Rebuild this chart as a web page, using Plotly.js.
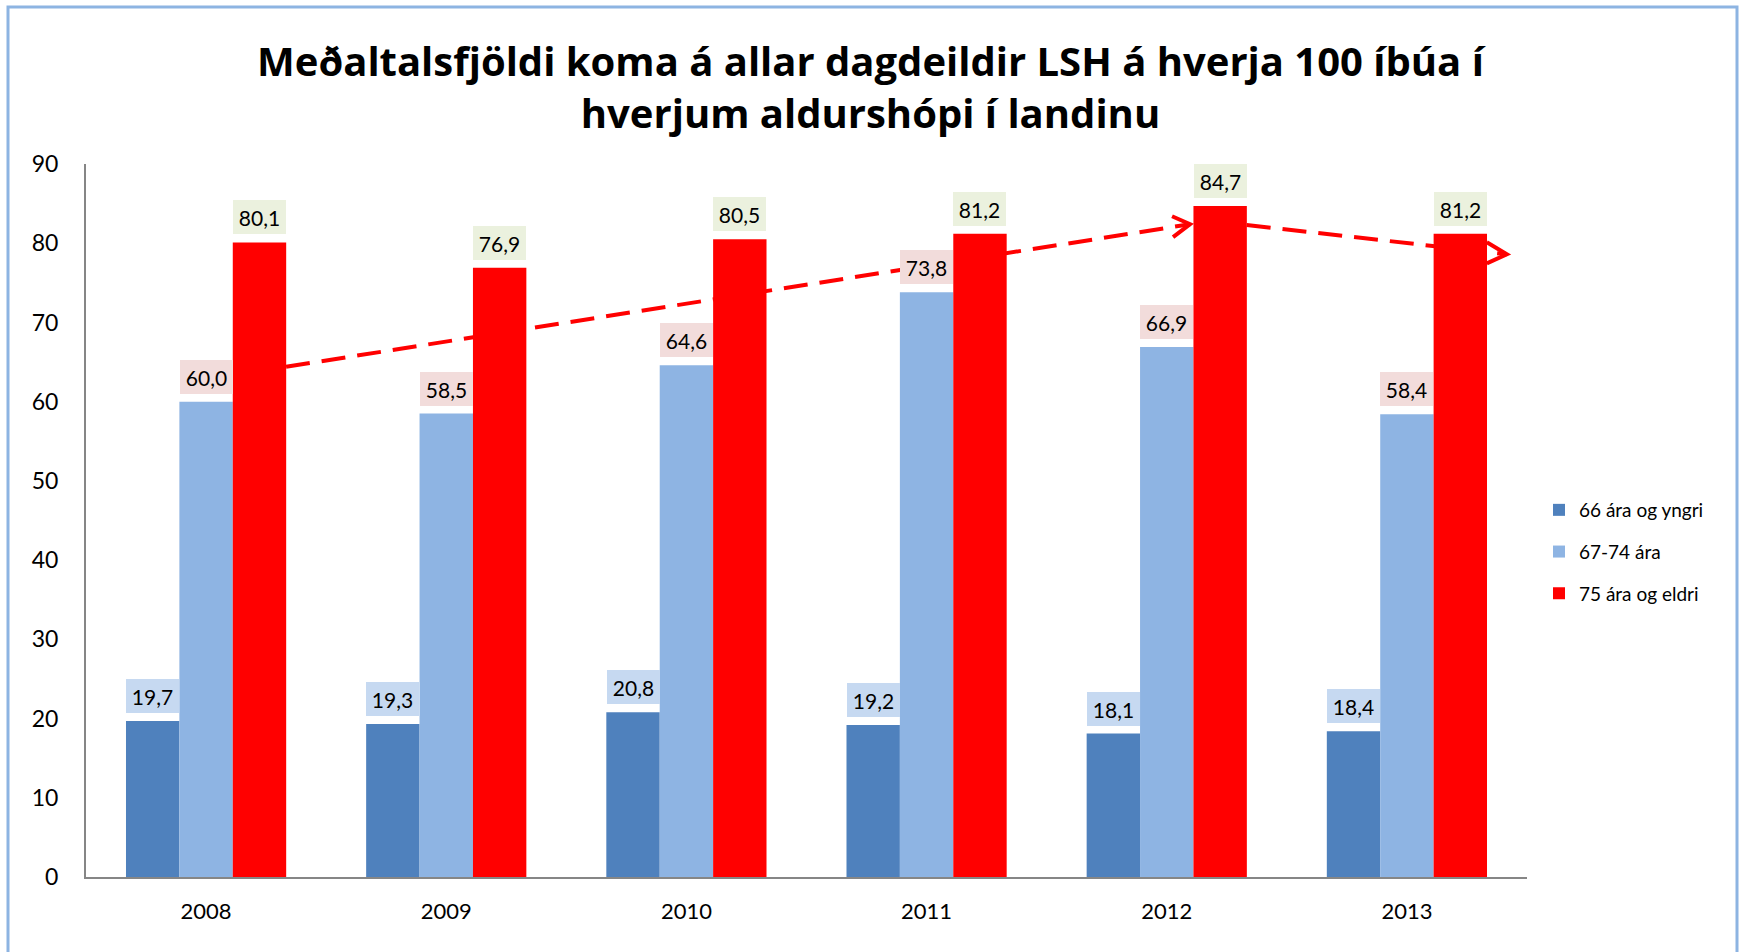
<!DOCTYPE html>
<html>
<head>
<meta charset="utf-8">
<script src="https://cdn.plot.ly/plotly-3.0.1.min.js"></script>
<style>
  html, body { margin: 0; padding: 0; background: #ffffff; }
  #chart { width: 1741px; height: 952px; }
</style>
</head>
<body>
<div id="chart"></div>
<script>
// ---- data ----
var years = ['2008', '2009', '2010', '2011', '2012', '2013'];
var seriesNames = ['66 ára og yngri', '67-74 ára', '75 ára og eldri'];
var young = [19.7, 19.3, 20.8, 19.2, 18.1, 18.4];
var middle = [60.0, 58.5, 64.6, 73.8, 66.9, 58.4];
var old = [80.1, 76.9, 80.5, 81.2, 84.7, 81.2];
// hand-drawn trend arrows (category index, value)
var trend1X = [0.333, 4.097];
var trend1Y = [64.4, 82.4];
var trend2X = [4.333, 5.416];
var trend2Y = [82.3, 78.6];

var barColors = ['#4F81BD', '#8EB4E3', '#FF0000'];
var labelBg = ['#C6D9F1', '#F2DCDB', '#EBF1DE'];
var FONT = 'Lato, "Open Sans", sans-serif';
var TITLE_FONT = '"Open Sans", Lato, sans-serif';

var allSeries = [young, middle, old];
var bargap = 0.333;
var barW = (1 - bargap) / 3;

var traces = allSeries.map(function (vals, k) {
  return {
    type: 'bar',
    name: seriesNames[k],
    x: years,
    y: vals,
    marker: { color: barColors[k] },
    legendgroup: 'g' + k,
    hoverinfo: 'x+y+name'
  };
});

function fmt(v) { return v.toFixed(1).replace('.', ','); }

var annotations = [];
allSeries.forEach(function (vals, k) {
  vals.forEach(function (v, i) {
    annotations.push({
      x: i + (k - 1) * barW,
      y: v,
      xref: 'x', yref: 'y',
      xanchor: 'center', yanchor: 'bottom',
      yshift: 8,
      text: fmt(v),
      showarrow: false,
      bgcolor: labelBg[k],
      width: 51, height: 32,
      borderpad: 1, borderwidth: 0,
      font: { family: FONT, size: 21, color: '#000000' }
    });
  });
});

var M = { l: 86, r: 214, t: 164, b: 75 };
var W = 1741, H = 952;
var pw = W - M.l - M.r, ph = H - M.t - M.b;
function px2x(p) { return (p - M.l) / pw; }
function py2y(p) { return (H - M.b - p) / ph; }

var red = '#FF0000';
var shapes = [
  { type: 'line', xref: 'x', yref: 'y', x0: trend1X[0], y0: trend1Y[0], x1: trend1X[1], y1: trend1Y[1],
    line: { color: red, width: 4, dash: '24px,12px' } },
  { type: 'line', xref: 'x', yref: 'y', x0: trend2X[0], y0: trend2Y[0], x1: trend2X[1], y1: trend2Y[1],
    line: { color: red, width: 4, dash: '24px,12px' } },
  { type: 'path', xref: 'x', yref: 'y', xsizemode: 'pixel', ysizemode: 'pixel',
    xanchor: trend1X[1], yanchor: trend1Y[1], path: 'M-18,8 L0,0 L-17,-13',
    line: { color: red, width: 4 } },
  { type: 'path', xref: 'x', yref: 'y', xsizemode: 'pixel', ysizemode: 'pixel',
    xanchor: trend2X[1], yanchor: trend2Y[1], path: 'M-20,12 L0,0 L-20,-9',
    line: { color: red, width: 4 } },
  // outer frame
  { type: 'rect', xref: 'paper', yref: 'paper', x0: px2x(8), x1: px2x(1737), y0: py2y(975), y1: py2y(7),
    line: { color: '#8DB4E2', width: 3 }, fillcolor: 'rgba(0,0,0,0)', layer: 'above' }
];

var layout = {
  width: W, height: H,
  margin: M,
  paper_bgcolor: '#ffffff',
  plot_bgcolor: '#ffffff',
  font: { family: FONT, color: '#000000' },
  separators: ', ',
  title: {
    text: '<b>Meðaltalsfjöldi koma á allar dagdeildir LSH á hverja 100 íbúa í<br>hverjum aldurshópi í landinu</b>',
    font: { family: TITLE_FONT, size: 40, color: '#000000' },
    xref: 'container', x: 0.5, xanchor: 'center',
    yref: 'container', y: 1 - 76 / H, yanchor: 'middle'
  },
  barmode: 'group',
  bargap: bargap,
  bargroupgap: 0,
  xaxis: {
    type: 'category',
    range: [-0.5, 5.5],
    showline: true, linecolor: '#868686', linewidth: 2,
    ticks: '', showgrid: false, zeroline: false,
    tickfont: { family: FONT, size: 22, color: '#000000' },
    ticklabelstandoff: 14
  },
  yaxis: {
    range: [0, 90], dtick: 10, tick0: 0,
    showline: true, linecolor: '#868686', linewidth: 2,
    ticks: '', showgrid: false, zeroline: false,
    tickfont: { family: FONT, size: 23, color: '#000000' },
    ticklabelstandoff: 21
  },
  legend: {
    x: px2x(1539), xanchor: 'left',
    y: py2y(552), yanchor: 'middle',
    font: { family: FONT, size: 19, color: '#000000' },
    tracegroupgap: 14,
    bgcolor: 'rgba(0,0,0,0)'
  },
  showlegend: true,
  annotations: annotations,
  shapes: shapes
};

Plotly.newPlot('chart', traces, layout, { displayModeBar: false, staticPlot: false });
</script>
</body>
</html>
